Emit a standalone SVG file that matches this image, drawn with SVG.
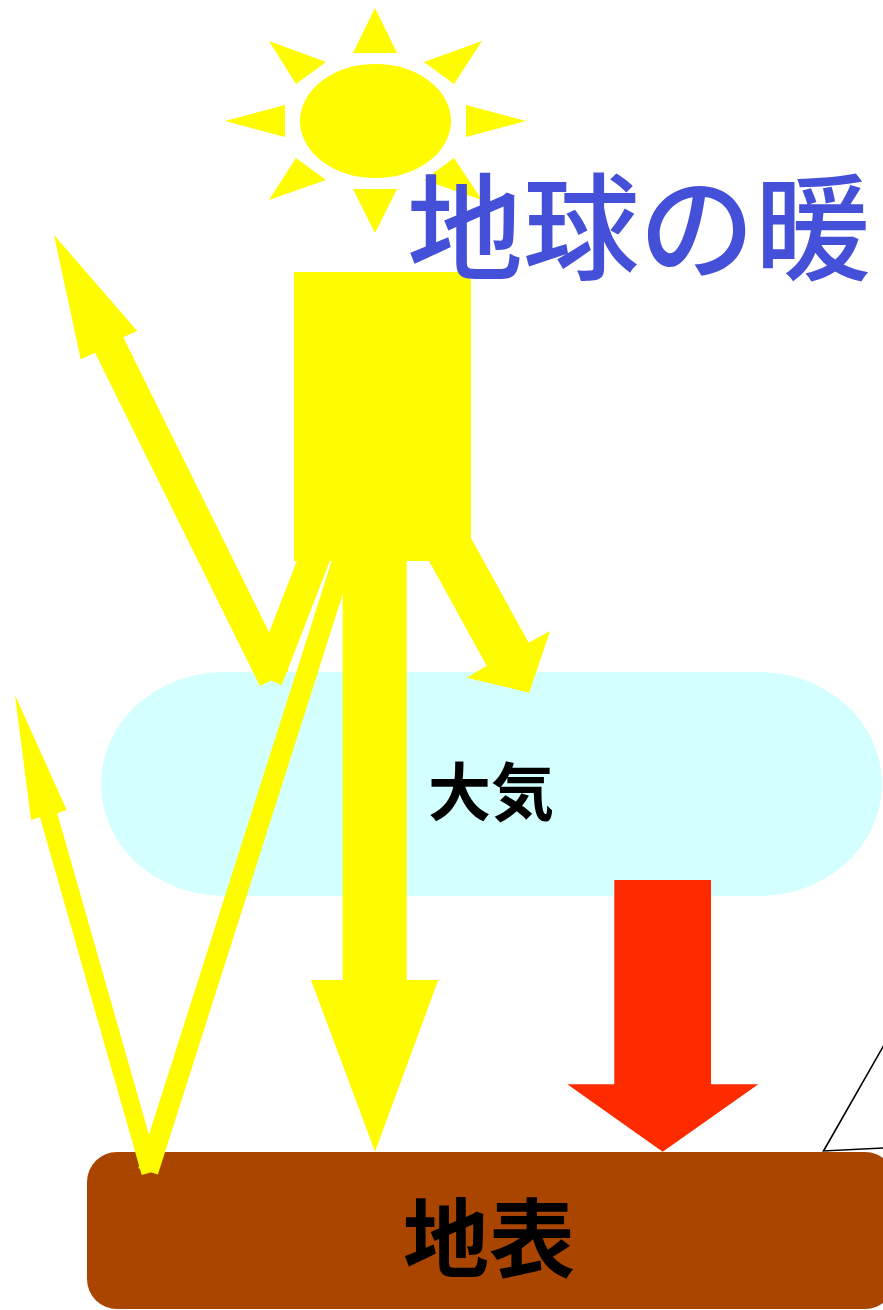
<svg xmlns="http://www.w3.org/2000/svg" width="883" height="1310" viewBox="0 0 883 1310">
  <style>
    .sun { fill: #FFFB00; }
    .beam { fill: #FFFB00; }
    .heat { fill: #FF2B00; }
    .label { font-family: "Noto Sans CJK JP", "Noto Sans CJK SC", sans-serif; fill: #000000; font-weight: bold; }
    .title { font-family: "Noto Sans CJK JP", "Noto Sans CJK SC", sans-serif; fill: #4450D8; font-size: 116px; font-weight: 500; }
  </style>
  <rect width="883" height="1310" fill="#FFFFFF"/>

  <!-- atmosphere layer -->
  <g id="atmosphere">
    <rect x="101" y="672" width="781" height="224" rx="123" ry="112" fill="#D4FFFF"/>
    <text class="label" x="491" y="815" font-size="63" text-anchor="middle">大気</text>
  </g>

  <!-- ground surface -->
  <g id="ground">
    <rect x="87" y="1152" width="808" height="157" rx="30" ry="30" fill="#AA4500"/>
  </g>

  <!-- sun -->
  <g id="sun" class="sun">
    <ellipse cx="375.5" cy="121" rx="75.5" ry="57"/>
    <polygon points="375,8 353,53 397,53"/>
    <polygon points="375,233 353,189 397,189"/>
    <polygon points="225,121 285,105 285,137"/>
    <polygon points="526,121 466,105 466,137"/>
    <polygon points="269,41 326,62 296,84"/>
    <polygon points="482,41 424,62 454,84"/>
    <polygon points="269,200 326,180 296,158"/>
    <polygon points="482,200 424,180 454,158"/>
  </g>

  <!-- radiation arrows -->
  <g id="connectors">
    <!-- incoming sunlight to the surface -->
    <path class="beam" d="M294,272 H471 V561 H406.7 V980 H438.3 L375,1151.7 L311,980 H342.7 V561 H294 Z"/>
    <!-- absorbed by the atmosphere -->
    <polygon class="beam" points="412,530 466.6,530 528.7,642.7 550,631 529.3,692.7 466.7,677.7 486.7,665.7"/>
    <!-- reflected by the atmosphere -->
    <polygon class="beam" points="305,540 338,540 281.7,685 253.3,673.3"/>
    <polygon class="beam" points="260,686 288.5,671.6 123.3,337.3 137.3,331 54,235 80.7,359.3 95,352.7"/>
    <!-- reflected by the surface -->
    <polygon class="beam" points="336.8,545 358.4,545 157.9,1174.5 138.3,1168.3"/>
    <polygon class="beam" points="141.7,1175 159,1170 57.3,813.3 66.7,810 15,695 31,820 40,817.3"/>
    <!-- heat from the atmosphere -->
    <path class="heat" d="M614.3,880 H711 V1084.3 H758.3 L662.7,1151.7 L567.3,1084.3 H614.3 Z"/>
  </g>

  <g id="title">
    <text class="title" x="407" y="271">地球の暖</text>
  </g>

  <g id="surface-label">
    <text class="label" x="489" y="1271" font-size="86" text-anchor="middle">地表</text>
  </g>

  <!-- callout tail -->
  <g id="callout">
    <path d="M884,1045 L823.5,1151 L884,1148" fill="#FFFFFF" stroke="#000000" stroke-width="1.6" stroke-linejoin="miter"/>
  </g>
</svg>
